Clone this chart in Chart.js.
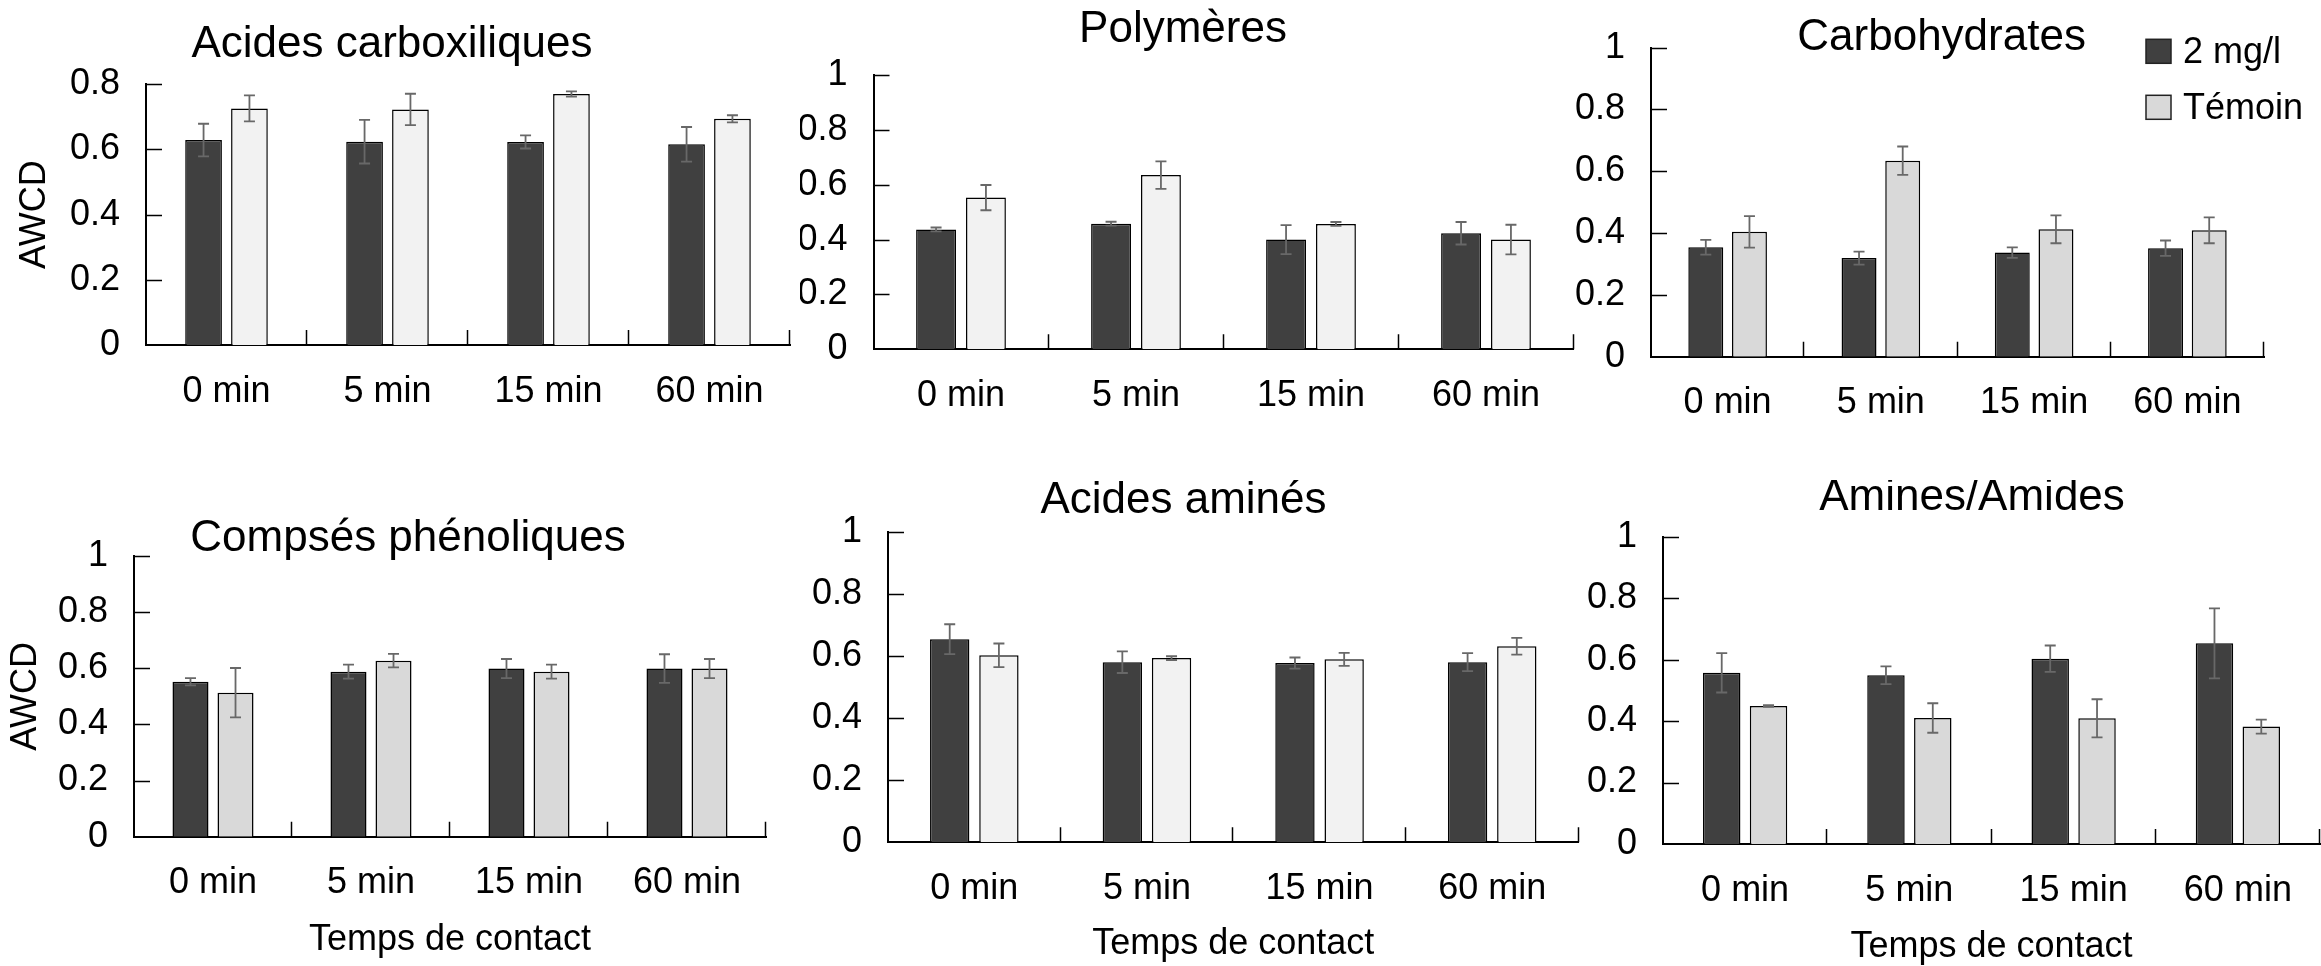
<!DOCTYPE html>
<html>
<head>
<meta charset="utf-8">
<script src="https://cdn.jsdelivr.net/npm/chart.js@4.4.1/dist/chart.umd.min.js"></script>
<style>
  html, body { margin: 0; padding: 0; background: #fff; overflow: hidden; width: 2321px; height: 966px; }
  canvas { position: absolute; }
</style>
</head>
<body>
<script>
// Contact times and the two treatments
const categories = ['0 min', '5 min', '15 min', '60 min'];
const seriesNames = ['2 mg/l', 'Témoin'];

// Y tick labels
const ticksTo08 = [0, 0.2, 0.4, 0.6, 0.8];
const ticksTo1 = [0, 0.2, 0.4, 0.6, 0.8, 1];

// AWCD means and standard deviations per substrate group
const carboxDose = [0.629, 0.624, 0.623, 0.616];
const carboxDoseErr = [0.050, 0.067, 0.020, 0.053];
const carboxCtrl = [0.726, 0.723, 0.770, 0.694];
const carboxCtrlErr = [0.040, 0.048, 0.008, 0.011];

const polyDose = [0.437, 0.458, 0.400, 0.423];
const polyDoseErr = [0.007, 0.007, 0.053, 0.041];
const polyCtrl = [0.553, 0.635, 0.457, 0.400];
const polyCtrlErr = [0.046, 0.050, 0.007, 0.054];

const carbDose = [0.354, 0.319, 0.337, 0.351];
const carbDoseErr = [0.024, 0.021, 0.017, 0.025];
const carbCtrl = [0.404, 0.634, 0.412, 0.409];
const carbCtrlErr = [0.051, 0.046, 0.045, 0.042];

const phenDose = [0.552, 0.588, 0.599, 0.599];
const phenDoseErr = [0.013, 0.025, 0.034, 0.051];
const phenCtrl = [0.513, 0.627, 0.588, 0.599];
const phenCtrlErr = [0.088, 0.024, 0.025, 0.034];

const aminoDose = [0.654, 0.580, 0.577, 0.580];
const aminoDoseErr = [0.048, 0.035, 0.018, 0.029];
const aminoCtrl = [0.602, 0.593, 0.589, 0.631];
const aminoCtrlErr = [0.038, 0.006, 0.021, 0.027];

const amineDose = [0.557, 0.549, 0.603, 0.653];
const amineDoseErr = [0.064, 0.029, 0.043, 0.114];
const amineCtrl = [0.449, 0.410, 0.409, 0.382];
const amineCtrlErr = [0.003, 0.048, 0.062, 0.023];

const FONT = "'Liberation Sans', Arial, Helvetica, sans-serif";
const DARK = '#404040';
const PALE = '#f2f2f2';
const GREY = '#d9d9d9';

Chart.defaults.font.family = FONT;
Chart.defaults.color = '#000';

// Error bars, inward tick marks, panel heading and legend
const decorations = {
  id: 'decorations',
  afterDatasetsDraw(chart) {
    const { ctx, scales: { y } } = chart;
    ctx.save();
    ctx.strokeStyle = '#686868';
    ctx.lineWidth = 1.8;
    chart.data.datasets.forEach((ds, i) => {
      chart.getDatasetMeta(i).data.forEach((bar, j) => {
        const v = ds.data[j], e = ds.errors[j];
        const yt = y.getPixelForValue(v + e);
        const yb = y.getPixelForValue(v - e);
        const cap = 5.5;
        ctx.beginPath();
        ctx.moveTo(bar.x, yt); ctx.lineTo(bar.x, yb);
        ctx.moveTo(bar.x - cap, yt); ctx.lineTo(bar.x + cap, yt);
        ctx.moveTo(bar.x - cap, yb); ctx.lineTo(bar.x + cap, yb);
        ctx.stroke();
      });
    });
    ctx.restore();
  },
  afterDraw(chart, args, opts) {
    const { ctx, chartArea: a, scales: { x, y } } = chart;
    ctx.save();
    ctx.strokeStyle = '#000';
    ctx.lineWidth = 1.5;
    ctx.beginPath();
    y.ticks.forEach(t => {
      const py = Math.round(y.getPixelForValue(t.value)) + 0.5;
      if (t.value === 0) return;
      ctx.moveTo(a.left, py); ctx.lineTo(a.left + 16, py);
    });
    const n = chart.data.labels.length;
    const half = (x.getPixelForValue(1) - x.getPixelForValue(0)) / 2;
    for (let i = 1; i <= n; i++) {
      const px = Math.round(x.getPixelForValue(i - 1) + half) - 0.5;
      ctx.moveTo(px, a.bottom); ctx.lineTo(px, a.bottom - 15);
    }
    ctx.stroke();

    if (opts.heading) {
      ctx.fillStyle = '#000';
      ctx.font = '44px ' + FONT;
      ctx.textAlign = 'center';
      ctx.textBaseline = 'alphabetic';
      ctx.fillText(opts.heading.text, opts.heading.x, opts.heading.y);
    }

    if (opts.legend) {
      const L = opts.legend;
      ctx.font = '36px ' + FONT;
      ctx.textAlign = 'left';
      ctx.textBaseline = 'alphabetic';
      chart.data.datasets.forEach((ds, i) => {
        const top = L.y + i * L.step;
        ctx.fillStyle = ds.backgroundColor;
        ctx.fillRect(L.x, top, 25, 24);
        ctx.strokeStyle = '#222';
        ctx.lineWidth = 1.5;
        ctx.strokeRect(L.x, top, 25, 24);
        ctx.fillStyle = '#000';
        ctx.fillText(ds.label, L.x + 37, top + 24);
      });
    }
    ctx.restore();
  }
};

// Panel placement on the page (box) and plot frame sizes
const panels = [
  { heading: 'Acides carboxiliques', dose: carboxDose, doseErr: carboxDoseErr, ctrl: carboxCtrl, ctrlErr: carboxCtrlErr,
    light: PALE, ticks: ticksTo08, yMax: 0.8,
    box: { x: 0, y: 0, w: 810, h: 480 }, padTop: 84.3, padRight: 20, yWidth: 146, xHeight: 135,
    head: { x: 392, y: 57 }, yTitle: 13.4 },
  { heading: 'Polymères', dose: polyDose, doseErr: polyDoseErr, ctrl: polyCtrl, ctrlErr: polyCtrlErr,
    light: PALE, ticks: ticksTo1, yMax: 1,
    box: { x: 800, y: 0, w: 790, h: 480 }, padTop: 75, padRight: 16.5, yWidth: 73.5, xHeight: 130.7,
    head: { x: 383, y: 42 } },
  { heading: 'Carbohydrates', dose: carbDose, doseErr: carbDoseErr, ctrl: carbCtrl, ctrlErr: carbCtrlErr,
    light: GREY, ticks: ticksTo1, yMax: 1,
    box: { x: 1560, y: 0, w: 761, h: 480 }, padTop: 44.3, padRight: 57, yWidth: 91, xHeight: 123.3,
    head: { x: 381.6, y: 50 }, legend: { x: 586, y: 39.3, step: 56 } },
  { heading: 'Compsés phénoliques', dose: phenDose, doseErr: phenDoseErr, ctrl: phenCtrl, ctrlErr: phenCtrlErr,
    light: GREY, ticks: ticksTo1, yMax: 1,
    box: { x: 0, y: 480, w: 800, h: 500 }, padTop: 76, padRight: 34, yWidth: 134, xHeight: 143.3,
    head: { x: 408, y: 70.5 }, yTitle: 4.4, xTitle: 17.9 },
  { heading: 'Acides aminés', dose: aminoDose, doseErr: aminoDoseErr, ctrl: aminoCtrl, ctrlErr: aminoCtrlErr,
    light: PALE, ticks: ticksTo1, yMax: 1,
    box: { x: 800, y: 480, w: 790, h: 500 }, padTop: 51.7, padRight: 11.5, yWidth: 88, xHeight: 137.7,
    head: { x: 383.5, y: 33 }, xTitle: 14.4 },
  { heading: 'Amines/Amides', dose: amineDose, doseErr: amineDoseErr, ctrl: amineCtrl, ctrlErr: amineCtrlErr,
    light: GREY, ticks: ticksTo1, yMax: 1,
    box: { x: 1560, y: 480, w: 761, h: 500 }, padTop: 56.7, padRight: 1, yWidth: 103, xHeight: 136,
    head: { x: 412, y: 30 }, xTitle: 10.9 }
];

panels.forEach(p => {
  const c = document.createElement('canvas');
  c.width = p.box.w;
  c.height = p.box.h;
  c.style.left = p.box.x + 'px';
  c.style.top = p.box.y + 'px';
  document.body.appendChild(c);

  new Chart(c, {
    type: 'bar',
    data: {
      labels: categories,
      datasets: [
        { label: seriesNames[0], data: p.dose, errors: p.doseErr, backgroundColor: DARK,
          borderColor: '#000', borderWidth: 1.5, categoryPercentage: 0.57, barPercentage: 0.8 },
        { label: seriesNames[1], data: p.ctrl, errors: p.ctrlErr, backgroundColor: p.light,
          borderColor: '#000', borderWidth: 1.5, categoryPercentage: 0.57, barPercentage: 0.8 }
      ]
    },
    plugins: [decorations],
    options: {
      responsive: false,
      animation: false,
      devicePixelRatio: 1,
      events: [],
      layout: { padding: { top: p.padTop, right: p.padRight, left: 0, bottom: 0 } },
      plugins: {
        legend: { display: false },
        tooltip: { enabled: false },
        title: { display: false },
        decorations: {
          heading: { text: p.heading, x: p.head.x, y: p.head.y },
          legend: p.legend || null
        }
      },
      scales: {
        x: {
          type: 'category',
          offset: true,
          z: 1,
          grid: { display: false, drawTicks: false },
          border: { display: true, color: '#000', width: 2 },
          ticks: { color: '#000', font: { size: 36 }, padding: 25, maxRotation: 0, autoSkip: false },
          title: {
            display: p.xTitle !== undefined,
            text: 'Temps de contact',
            color: '#000',
            font: { size: 36 },
            padding: { top: 0, bottom: p.xTitle || 0 }
          },
          afterFit(s) { s.height = p.xHeight; }
        },
        y: {
          min: 0,
          max: p.yMax,
          z: 1,
          grid: { display: false, drawTicks: false },
          border: { display: true, color: '#000', width: 2 },
          afterBuildTicks(s) { s.ticks = p.ticks.map(v => ({ value: v })); },
          ticks: { color: '#000', font: { size: 36 }, padding: 26, callback: v => String(v) },
          title: {
            display: p.yTitle !== undefined,
            text: 'AWCD',
            color: '#000',
            font: { size: 36 },
            padding: { top: p.yTitle || 0, bottom: 0 }
          },
          afterFit(s) { s.width = p.yWidth; }
        }
      }
    }
  });
});
</script>
</body>
</html>
